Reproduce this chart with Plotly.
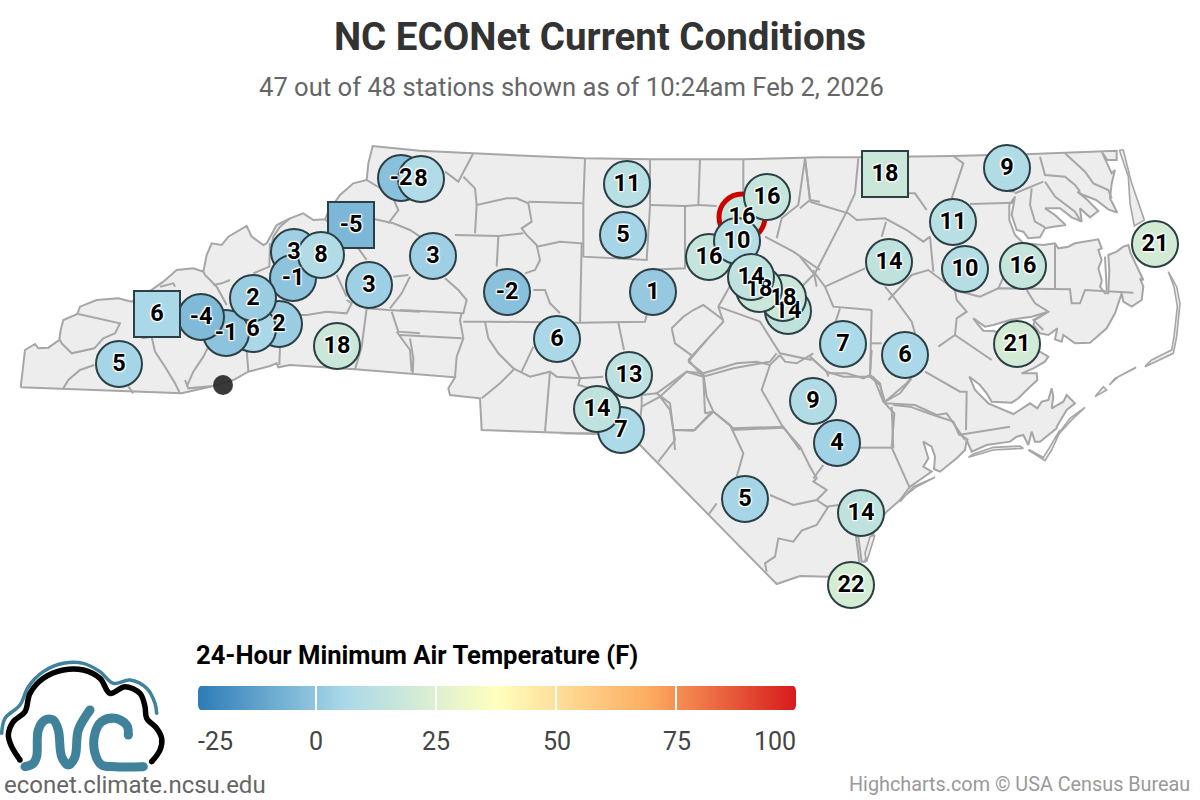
import numpy as np
import plotly.graph_objects as go

# ---------- station data ----------
station_x = [401,421,351,294,293,321,369,279,253,226,201,253,157,119,337,
             433,507,557,627,623,653,629,621,597,
             742,767,709,737,788,783,759,751,
             885,1007,953,889,965,1023,1155,843,905,1017,813,837,745,861,851]
station_y = [178,179,225,252,278,255,285,324,329,333,317,298,314,364,346,
             256,292,339,184,235,292,375,430,409,
             217,197,257,241,311,298,289,277,
             174,168,222,262,269,266,244,344,355,344,401,443,499,513,585]
station_t = [-2,8,-5,3,-1,8,3,2,6,-1,-4,2,6,5,18,
             3,-2,6,11,5,1,13,7,14,
             16,16,16,10,14,18,18,14,
             18,9,11,14,10,16,21,7,6,21,9,4,5,14,22]
square_idx = {2,12,32}
alert_idx = {24}
missing_x = [223]
missing_y = [385]

legend_ticks = [-25,0,25,50,75,100]
legend_seps = [0,25,50,75]
color_stops = ["#2c7bb6","#abd9e9","#ffffbf","#fdae61","#d7191c"]

# ---------- map geometry: (crop left, crop top, points at 3x) ----------
outline_parts = [
 (0,130,[(62,772),(75,660),(105,642),(115,655),(145,653),(178,630),(182,600),(190,570),(232,552),(240,530),(290,510),(355,505),(395,515),(440,490),(490,455),(530,420),(580,415),(610,425),(620,375),(635,340),(665,345),(685,320),(740,288),(755,320),(790,345),(800,340),(830,285),(870,265),(910,250),(940,270),(975,268),(985,245),(1020,195),(1060,160),(1100,150),(1105,100),(1118,48),(1260,62)]),
 (400,130,[(220,70),(395,78),(555,85),(755,88),(900,88),(1030,88),(1150,85),(1260,82)]),
 (800,130,[(175,82),(460,78)]),
 (1000,140,[(95,42),(305,33),(350,32),(350,60),(322,60),(305,35),(320,70),(335,100),(345,90),(335,130),(330,175),(352,218),(325,208),(288,180),(250,165),(232,155),(260,178),(295,213),(270,232),(240,205),(245,245),(215,232),(180,205),(135,205),(165,225),(197,255),(160,260),(135,265),(120,292),(85,295),(70,275),(50,270),(35,225),(45,170),(28,195),(28,240),(45,285),(70,310),(130,315),(165,310),(175,325),(205,320),(225,310),(295,298),(305,325),(295,330),(305,360),(295,385),(305,420)]),
 (950,270,[(455,35),(450,50),(465,70),(475,70),(478,0)]),
 (1000,140,[(325,345),(350,335),(370,320),(385,315),(392,340),(430,420)]),
 (950,270,[(570,25),(580,50),(575,90),(545,110),(520,95),(515,70),(495,130),(470,175),(420,218),(375,220),(340,195),(335,215),(315,208),(322,175),(295,195),(270,190),(250,165),(255,150),(295,125),(245,140),(180,150),(130,165),(105,170),(70,145),(85,165),(100,182),(130,183),(170,195),(220,250),(270,245),(295,260),(285,275),(250,295),(215,310),(260,310),(262,330),(240,350),(205,385),(185,398),(125,395),(110,370),(90,345),(58,320),(75,360),(115,400),(160,418),(190,432),(225,410),(240,400),(262,415),(275,395),(295,390),(305,355),(310,380),(305,415),(340,395),(350,375),(375,400),(350,420),(320,470)]),
 (860,370,[(590,175),(540,215),(525,215),(515,185),(505,225),(490,195),(470,200),(450,215),(380,225),(335,245),(320,210),(315,240),(290,265),(240,305),(222,297),(225,260),(215,230),(190,215),(205,265),(190,290),(215,305),(150,350),(120,390),(80,425)]),
 (560,340,[(960,540),(930,600),(915,665),(905,665),(895,590),(888,590),(898,665),(860,700),(805,710),(720,708),(650,732),(240,315),(110,280),(0,280)]),
 (400,130,[(590,912),(245,900),(240,805),(150,795),(145,775),(165,742),(60,733)]),
 (0,130,[(1065,718),(870,705),(835,712),(830,700),(810,708),(745,725),(700,750),(640,768),(545,790),(62,772)]),
]
island_parts = [
 (1000,140,[(358,30),(370,30),(395,130),(433,240),(425,245),(403,258),(390,190),(385,110),(358,30)]),
 (950,270,[(655,5),(680,50),(690,100),(680,200),(670,250),(585,290),(605,270),(665,240),(672,200),(682,110),(672,50),(655,5)]),
 (950,270,[(555,295),(505,320),(478,345),(495,325),(558,292),(555,295)]),
 (950,270,[(435,380),(460,350),(470,360),(435,380)]),
 (950,270,[(405,412),(360,445),(315,505),(365,450),(405,412)]),
 (860,370,[(600,185),(575,240),(555,272),(505,240),(510,240),(550,262),(570,230),(600,180),(600,185)]),
 (860,370,[(325,262),(400,240),(490,235),(480,228),(400,232),(340,252),(325,262)]),
 (860,370,[(225,322),(160,350),(120,395),(125,385),(170,350),(225,322)]),
 (560,340,[(945,585),(920,665),(915,640),(930,590),(945,585)]),
]
county_parts = [
 (0,130,[
  [(190,775),(205,750),(240,720),(283,705)],
  [(235,552),(290,565),(340,575),(360,580),(345,610),(310,625),(283,655),(215,670),(185,640),(180,630)],
  [(425,625),(455,620),(465,665),(495,710),(525,760),(540,790)],
  [(385,770),(400,790)],
  [(560,770),(580,725),(610,680),(625,650)],
  [(555,750),(565,775),(640,768)],
  [(740,660),(745,725)],
  [(840,650),(838,705)],
  [(480,470),(520,460),(525,470)],
  [(610,425),(615,435),(650,470),(680,525)],
  [(640,465),(665,460),(690,450)],
  [(810,340),(808,410),(760,430)],
  [(900,555),(920,555),(980,545),(1040,550),(1055,520),(1040,510)],
  [(1100,535),(1085,650),(1065,718)],
  [(1100,535),(1165,540),(1260,545)],
  [(1170,535),(1205,490),(1230,440)],
  [(1180,440),(1225,435)],
  [(1010,435),(1040,500)],
  [(1075,355),(1100,390)],
  [(1125,268),(1180,280),(1230,300),(1260,320)],
  [(1165,280),(1195,240),(1175,195),(1100,150)],
  [(1175,545),(1195,605),(1260,610)],
  [(1190,605),(1230,660),(1235,725)],
  [(870,265),(840,290),(820,320),(815,345)],
  [(975,268),(1000,290)],
 ]),
 (400,130,[
  [(0,540),(190,550),(200,510),(175,480),(135,445)],
  [(0,615),(185,625)],
  [(30,625),(40,685),(38,735)],
  [(185,550),(180,570),(190,625),(170,680),(165,742)],
  [(190,575),(270,575),(540,578),(735,575),(740,555)],
  [(295,320),(290,410)],
  [(165,315),(295,318),(370,310)],
  [(225,310),(230,225),(320,205),(350,205),(385,220),(395,275),(365,295),(380,315),(410,345),(420,390),(405,420),(375,430)],
  [(410,350),(480,335),(545,340),(540,578)],
  [(385,215),(550,220),(555,85)],
  [(550,220),(550,380),(740,390),(750,230),(750,88)],
  [(750,225),(855,228),(895,225),(900,88)],
  [(895,225),(950,228)],
  [(855,228),(855,415),(740,420),(735,555)],
  [(1030,88),(1030,185)],
  [(220,70),(190,130),(175,155),(135,125)],
  [(190,140),(225,175),(230,225)],
  [(400,480),(435,480),(450,520),(480,550)],
  [(255,575),(265,625),(295,670),(340,715),(390,740),(450,725),(470,740),(540,745),(610,740)],
  [(345,715),(300,760),(245,805)],
  [(450,725),(435,905)],
  [(400,650),(365,725)],
  [(515,690),(540,745),(535,765),(590,780)],
  [(655,578),(672,660)],
  [(725,830),(725,795),(770,790),(810,820),(820,900),(885,900),(935,845)],
  [(770,790),(860,725),(910,740),(915,850)],
  [(865,690),(910,740),(1000,715),(1110,695),(1130,670)],
  [(865,690),(970,575),(955,530),(1000,450)],
  [(955,530),(1080,575),(1140,670),(1235,690)],
  [(815,595),(850,560),(880,540),(910,525),(970,570)],
  [(815,595),(825,640),(880,680)],
  [(1095,320),(1180,365),(1260,420)],
  [(1130,325),(1145,265),(1195,225),(1215,85)],
  [(1240,420),(1250,470)],
  [(1215,85),(1230,210),(1260,215)],
  [(915,850),(940,845),(1000,895),(1150,890),(1200,960)],
  [(820,900),(825,960)],
 ]),
 (560,340,[
  [(385,65),(430,100),(530,70),(590,65),(630,75),(660,45)],
  [(385,65),(440,0)],
  [(430,100),(380,95),(300,170),(245,200),(240,240)],
  [(300,170),(330,210),(340,270),(345,300),(295,365)],
  [(340,270),(400,272),(460,215)],
  [(430,100),(440,170),(460,215),(510,255),(550,340),(530,410)],
  [(515,270),(670,263)],
  [(630,75),(605,150),(670,263),(720,320),(750,380),(770,415),(760,425),(800,450),(770,480),(700,495),(630,465)],
  [(770,480),(800,500),(835,495)],
  [(790,375),(760,415)],
  [(470,490),(445,525)],
  [(805,500),(770,555),(725,572),(700,605),(655,595),(645,650),(615,670),(620,695)],
  [(900,323),(995,323)],
  [(995,323),(1050,445)],
  [(995,323),(1003,220),(970,185),(940,110)],
  [(660,45),(675,65),(710,70),(760,40)],
  [(750,50),(800,95),(805,110)],
  [(800,100),(860,100),(910,115),(930,105),(960,130),(970,185)],
  [(930,105),(935,30)],
  [(975,185),(1020,160),(1055,115)],
  [(1000,195),(1050,200),(1120,225),(1180,245),(1195,280),(1225,300)],
 ]),
 (800,130,[
  [(15,85),(30,210),(0,235)],
  [(30,215),(95,235),(145,250),(170,270),(255,265),(320,300),(370,335),(390,320),(400,425)],
  [(175,85),(165,190),(140,245),(45,430),(0,475)],
  [(45,430),(75,470),(100,530),(215,540)],
  [(45,435),(0,380)],
  [(75,470),(195,415)],
  [(258,275),(245,320)],
  [(255,470),(280,500),(335,575),(345,610)],
  [(265,510),(335,435),(385,420),(465,480),(470,510),(500,545),(470,565),(465,615),(415,650)],
  [(215,540),(213,640),(210,740),(240,765),(255,815)],
  [(120,535),(105,580)],
  [(30,680),(80,725),(130,740),(210,740)],
  [(213,640),(245,640)],
  [(255,815),(320,760),(335,740)],
  [(375,725),(480,785),(500,785),(498,900)],
  [(465,615),(575,690)],
  [(255,820),(345,825),(410,855),(440,850),(495,930)],
  [(475,915),(630,890)],
  [(275,830),(280,955)],
  [(455,205),(490,100),(460,78)],
  [(510,222),(640,218)],
  [(380,240),(345,190),(325,190)],
  [(460,480),(540,500),(595,475),(810,478),(815,520),(840,520),(855,480),(1000,488)],
  [(595,475),(620,420)],
  [(680,480),(705,520),(745,545),(700,570),(730,600)],
  [(765,340),(765,475)],
  [(915,380),(920,480)],
 ]),
 (1000,140,[
  [(120,50),(135,105),(195,110),(225,135),(240,155)],
  [(195,40),(255,95),(280,130),(325,150),(335,175)],
  [(45,160),(80,145),(130,125)],
  [(95,145),(90,195),(105,245),(135,262)],
  [(135,125),(165,170),(225,215),(240,240)],
  [(0,150),(45,155)],
 ]),
]

# ---------- logo strokes (crop at 0,650, 3x) ----------
logo_teal_arc = [(5,250),(15,205),(60,165),(85,110),(130,65),(190,40),(250,40),(300,65),(340,100),(390,90),(440,115),(465,160),(470,190)]
logo_black = [(60,330),(35,290),(25,255),(40,215),(75,185),(90,130),(130,85),(190,60),(250,60),(300,85),(330,130),(375,110),(420,130),(435,170),(440,205),(470,235),(485,265),(480,300),(455,335)]
logo_n = [(75,350),(100,340),(110,320),(115,240),(135,210),(160,210),(175,240),(185,320),(205,345),(225,320),(235,240),(270,180)]
logo_c = [(385,255),(380,225),(345,205),(305,215),(285,250),(285,310),(305,345),(345,350),(430,350)]


def conv(ox, oy, pts):
    return [ox + p[0] / 3 for p in pts], [oy + p[1] / 3 for p in pts]


LAND = "#ededed"
EDGE = "#a6a6a6"
fig = go.Figure()

ox_all, oy_all = [], []
for ox, oy, pts in outline_parts:
    a, b = conv(ox, oy, pts)
    ox_all += a
    oy_all += b
fig.add_trace(go.Scatter(x=ox_all, y=oy_all, mode="lines", fill="toself", fillcolor=LAND,
                         line=dict(color=EDGE, width=2), hoverinfo="skip"))
for ox, oy, pts in island_parts:
    a, b = conv(ox, oy, pts)
    fig.add_trace(go.Scatter(x=a, y=b, mode="lines", fill="toself", fillcolor=LAND,
                             line=dict(color=EDGE, width=1.6), hoverinfo="skip"))
cx, cy = [], []
for ox, oy, lines in county_parts:
    for pts in lines:
        a, b = conv(ox, oy, pts)
        cx += a + [None]
        cy += b + [None]
fig.add_trace(go.Scatter(x=cx, y=cy, mode="lines", line=dict(color=EDGE, width=2), hoverinfo="skip"))

fig.add_trace(go.Scatter(x=missing_x, y=missing_y, mode="markers",
                         marker=dict(size=20, color="rgba(40,40,40,0.92)"), name="No data"))

scale = [[i / 4, c] for i, c in enumerate(color_stops)]
n = len(station_t)
fig.add_trace(go.Scatter(
    x=station_x, y=station_y, mode="markers",
    marker=dict(
        size=[46] * n, opacity=1,
        symbol=["square" if i in square_idx else "circle" for i in range(n)],
        color=station_t, colorscale=scale, cmin=-25, cmax=100,
        line=dict(width=[5 if i in alert_idx else 2 for i in range(n)],
                  color=["#cc0000" if i in alert_idx else "#2b3f45" for i in range(n)]),
    ), hoverinfo="text", text=station_t))
fig.add_trace(go.Scatter(
    x=station_x, y=[v + 1 for v in station_y], mode="text", text=[str(v) for v in station_t],
    textposition="middle center",
    textfont=dict(family="Roboto", size=23.5, color="#000", weight=700,
                  shadow="1px 1px 1px #fff, -1px -1px 1px #fff, 1px -1px 1px #fff, -1px 1px 1px #fff, 0 0 3px #fff"),
    hoverinfo="skip"))

# logo
for pts, col, w in [(logo_teal_arc, "#41829b", 3.5), (logo_black, "#000000", 5.5),
                    (logo_n, "#41829b", 9), (logo_c, "#41829b", 9)]:
    a, b = conv(0, 650, pts)
    fig.add_trace(go.Scatter(x=a, y=b, mode="lines", line=dict(color=col, width=w, shape="spline"),
                             hoverinfo="skip"))
    fig.add_trace(go.Scatter(x=[a[0], a[-1]], y=[b[0], b[-1]], mode="markers",
                             marker=dict(size=w, color=col), hoverinfo="skip"))

# legend bar
bar_x = np.arange(-25, 100.5, 2.5)
fig.add_trace(go.Heatmap(x=bar_x, y=[0, 1], z=[bar_x, bar_x], xaxis="x2", yaxis="y2",
                         colorscale=scale, zmin=-25, zmax=100, showscale=False,
                         zsmooth="best", hoverinfo="skip"))

shapes = [dict(type="line", xref="x2", yref="y2", x0=v, x1=v, y0=0, y1=1,
               line=dict(color="#fff", width=2)) for v in legend_seps]
# rounded bar ends
for path in ["M 197 685 L 203 685 Q 198 686 198 691 L 197 691 Z",
             "M 197 711 L 203 711 Q 198 710 198 705 L 197 705 Z",
             "M 797 685 L 791 685 Q 796 686 796 691 L 797 691 Z",
             "M 797 711 L 791 711 Q 796 710 796 705 L 797 705 Z"]:
    shapes.append(dict(type="path", xref="x", yref="y", path=path,
                       fillcolor="#fff", line=dict(width=0)))

annotations = [
    dict(text="47 out of 48 stations shown as of 10:24am Feb 2, 2026", x=571, y=87,
         font=dict(size=25.6, color="#666666")),
    dict(text="<b>24-Hour Minimum Air Temperature (F)</b>", x=194, y=655, xanchor="left",
         font=dict(size=25.6, color="#000000")),
    dict(text="econet.climate.ncsu.edu", x=2, y=785, xanchor="left",
         font=dict(size=24, color="#666666")),
    dict(text="Highcharts.com © USA Census Bureau", x=1192, y=784, xanchor="right",
         font=dict(size=19.8, color="#999999")),
]
for v in legend_ticks:
    anchor = "left" if v == -25 else "right" if v == 100 else "center"
    pos = 196 if v == -25 else 798 if v == 100 else 316 + v * 4.81
    annotations.append(dict(text=str(v), x=pos, y=741, xanchor=anchor,
                            font=dict(size=25, color="#444444")))
for a in annotations:
    a.update(xref="x", yref="y", showarrow=False, yanchor="middle")
    a["font"]["family"] = "Roboto"

fig.update_layout(
    width=1200, height=800, margin=dict(l=0, r=0, t=0, b=0),
    paper_bgcolor="#fff", plot_bgcolor="#fff", showlegend=False,
    title=dict(text="<b>NC ECONet Current Conditions</b>", x=0.5, xanchor="center",
               y=1 - 37 / 800, yanchor="middle",
               font=dict(family="Roboto", size=38.5, color="#333333")),
    xaxis=dict(range=[0, 1200], visible=False, fixedrange=True),
    yaxis=dict(range=[800, 0], visible=False, fixedrange=True),
    xaxis2=dict(domain=[198 / 1200, 796 / 1200], range=[-24.58, 100], visible=False, anchor="y2", fixedrange=True),
    yaxis2=dict(domain=[1 - 710 / 800, 1 - 686 / 800], range=[0, 1], visible=False, anchor="x2", fixedrange=True),
    shapes=shapes, annotations=annotations,
)
fig.write_html("out.html", post_script="document.body.style.margin='0';document.body.style.overflow='hidden';",
               config={"displayModeBar": False})
